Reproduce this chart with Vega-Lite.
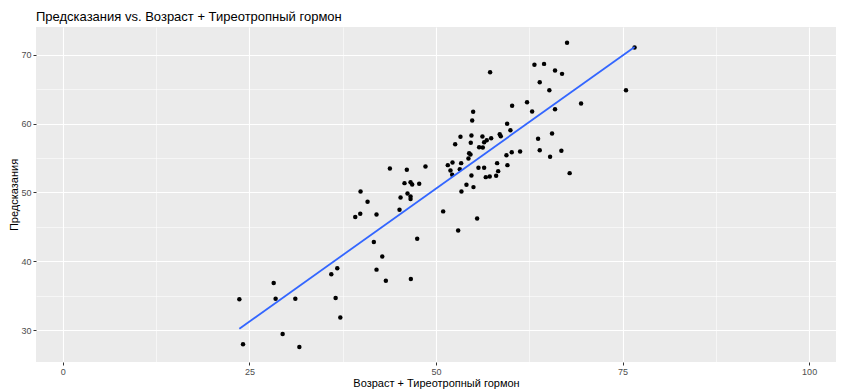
{
  "$schema": "https://vega.github.io/schema/vega-lite/v6.json",
  "width": 800,
  "height": 335,
  "autosize": {"type": "none"},
  "padding": {"left": 36, "top": 27, "right": 7, "bottom": 27},
  "background": "white",
  "config": {
    "font": "Liberation Sans",
    "view": {"fill": "#EBEBEB", "stroke": null}
  },
  "title": {
    "text": "Предсказания vs. Возраст + Тиреотропный гормон",
    "anchor": "start",
    "frame": "group",
    "fontSize": 13,
    "fontWeight": "normal",
    "font": "Liberation Sans",
    "color": "#000000",
    "offset": 3
  },
  "data": {
    "values": [
      {"age_tsh": 23.65, "pred": 34.49}, {"age_tsh": 24.14, "pred": 27.97}, {"age_tsh": 28.25, "pred": 36.86},
      {"age_tsh": 28.51, "pred": 34.59}, {"age_tsh": 31.15, "pred": 34.59}, {"age_tsh": 29.45, "pred": 29.46},
      {"age_tsh": 31.69, "pred": 27.58}, {"age_tsh": 35.97, "pred": 38.12}, {"age_tsh": 36.77, "pred": 38.99},
      {"age_tsh": 36.55, "pred": 34.68}, {"age_tsh": 37.18, "pred": 31.84},
      {"age_tsh": 43.82, "pred": 53.48}, {"age_tsh": 46.09, "pred": 53.29}, {"age_tsh": 48.59, "pred": 53.77},
      {"age_tsh": 45.78, "pred": 51.35}, {"age_tsh": 46.59, "pred": 51.49}, {"age_tsh": 46.81, "pred": 51.16},
      {"age_tsh": 47.75, "pred": 51.26}, {"age_tsh": 39.89, "pred": 50.14}, {"age_tsh": 46.18, "pred": 49.86},
      {"age_tsh": 45.25, "pred": 49.28}, {"age_tsh": 46.59, "pred": 49.42}, {"age_tsh": 46.59, "pred": 49.03},
      {"age_tsh": 40.83, "pred": 48.65}, {"age_tsh": 45.11, "pred": 47.49}, {"age_tsh": 39.85, "pred": 46.91},
      {"age_tsh": 39.18, "pred": 46.42}, {"age_tsh": 42.03, "pred": 46.81}, {"age_tsh": 50.96, "pred": 47.25},
      {"age_tsh": 47.48, "pred": 43.29}, {"age_tsh": 41.67, "pred": 42.8}, {"age_tsh": 42.8, "pred": 40.72},
      {"age_tsh": 42.03, "pred": 38.8}, {"age_tsh": 43.28, "pred": 37.2}, {"age_tsh": 46.63, "pred": 37.44},
      {"age_tsh": 57.25, "pred": 67.44}, {"age_tsh": 60.2, "pred": 62.56}, {"age_tsh": 54.98, "pred": 61.69},
      {"age_tsh": 54.85, "pred": 60.43}, {"age_tsh": 59.53, "pred": 59.96}, {"age_tsh": 59.97, "pred": 59.03},
      {"age_tsh": 53.28, "pred": 58.07}, {"age_tsh": 54.75, "pred": 58.26}, {"age_tsh": 58.54, "pred": 58.45},
      {"age_tsh": 58.68, "pred": 58.16}, {"age_tsh": 56.22, "pred": 58.12}, {"age_tsh": 57.39, "pred": 57.87},
      {"age_tsh": 56.8, "pred": 57.58}, {"age_tsh": 56.45, "pred": 57.29}, {"age_tsh": 54.66, "pred": 57.2},
      {"age_tsh": 52.57, "pred": 57.0}, {"age_tsh": 55.78, "pred": 56.57}, {"age_tsh": 56.27, "pred": 56.52},
      {"age_tsh": 54.44, "pred": 55.7}, {"age_tsh": 54.62, "pred": 55.51}, {"age_tsh": 60.15, "pred": 55.84},
      {"age_tsh": 59.44, "pred": 55.41}, {"age_tsh": 54.35, "pred": 54.93}, {"age_tsh": 52.21, "pred": 54.35},
      {"age_tsh": 51.58, "pred": 53.96}, {"age_tsh": 53.37, "pred": 54.25}, {"age_tsh": 58.19, "pred": 54.25},
      {"age_tsh": 59.57, "pred": 53.96}, {"age_tsh": 51.94, "pred": 53.19}, {"age_tsh": 53.19, "pred": 53.38},
      {"age_tsh": 55.69, "pred": 53.58}, {"age_tsh": 56.45, "pred": 53.58}, {"age_tsh": 58.33, "pred": 53.09},
      {"age_tsh": 52.17, "pred": 52.57}, {"age_tsh": 54.75, "pred": 52.46}, {"age_tsh": 56.67, "pred": 52.22},
      {"age_tsh": 57.2, "pred": 52.32}, {"age_tsh": 58.06, "pred": 52.42}, {"age_tsh": 54.08, "pred": 51.12},
      {"age_tsh": 55.02, "pred": 50.77}, {"age_tsh": 53.41, "pred": 50.14}, {"age_tsh": 55.51, "pred": 46.23},
      {"age_tsh": 52.97, "pred": 44.49},
      {"age_tsh": 67.56, "pred": 71.7}, {"age_tsh": 63.19, "pred": 68.51}, {"age_tsh": 64.48, "pred": 68.65},
      {"age_tsh": 65.95, "pred": 67.68}, {"age_tsh": 66.89, "pred": 67.2}, {"age_tsh": 63.9, "pred": 66.0},
      {"age_tsh": 65.19, "pred": 64.83}, {"age_tsh": 62.2, "pred": 63.09}, {"age_tsh": 62.88, "pred": 61.74},
      {"age_tsh": 65.95, "pred": 62.07}, {"age_tsh": 69.44, "pred": 62.9}, {"age_tsh": 65.55, "pred": 58.55},
      {"age_tsh": 63.68, "pred": 57.78}, {"age_tsh": 61.27, "pred": 55.94}, {"age_tsh": 63.9, "pred": 56.13},
      {"age_tsh": 66.8, "pred": 56.04}, {"age_tsh": 65.29, "pred": 55.17}, {"age_tsh": 67.91, "pred": 52.8},
      {"age_tsh": 76.61, "pred": 71.01}, {"age_tsh": 75.46, "pred": 64.83}
    ]
  },
  "encoding": {
    "x": {
      "field": "age_tsh",
      "type": "quantitative",
      "title": "Возраст + Тиреотропный гормон",
      "scale": {"domain": [-3.6, 103.6], "nice": false, "zero": false},
      "axis": {
        "values": [0, 12.5, 25, 37.5, 50, 62.5, 75, 87.5, 100],
        "labelExpr": "datum.value % 25 === 0 ? datum.label : ''",
        "domain": false,
        "grid": true,
        "gridColor": "#FFFFFF",
        "gridWidth": {"condition": {"test": "datum.value % 25 === 0", "value": 1.1}, "value": 0.55},
        "tickOpacity": {"condition": {"test": "datum.value % 25 === 0", "value": 1}, "value": 0},
        "tickColor": "#333333",
        "tickSize": 3,
        "labelColor": "#4D4D4D",
        "labelFontSize": 9,
        "labelPadding": 2,
        "labelFont": "Liberation Sans",
        "titleFont": "Liberation Sans",
        "titleFontSize": 11,
        "titleFontWeight": "normal",
        "titleColor": "#000000",
        "titlePadding": 1
      }
    },
    "y": {
      "field": "pred",
      "type": "quantitative",
      "title": "Предсказания",
      "scale": {"domain": [25.4, 74.0], "nice": false, "zero": false},
      "axis": {
        "values": [30, 35, 40, 45, 50, 55, 60, 65, 70],
        "labelExpr": "datum.value % 10 === 0 ? datum.label : ''",
        "domain": false,
        "grid": true,
        "gridColor": "#FFFFFF",
        "gridWidth": {"condition": {"test": "datum.value % 10 === 0", "value": 1.1}, "value": 0.55},
        "tickOpacity": {"condition": {"test": "datum.value % 10 === 0", "value": 1}, "value": 0},
        "tickColor": "#333333",
        "tickSize": 3,
        "labelColor": "#4D4D4D",
        "labelFontSize": 9,
        "labelPadding": 2,
        "labelFont": "Liberation Sans",
        "titleFont": "Liberation Sans",
        "titleFontSize": 11,
        "titleFontWeight": "normal",
        "titleColor": "#000000",
        "titlePadding": 1
      }
    }
  },
  "layer": [
    {
      "mark": {"type": "circle", "color": "#000000", "opacity": 1, "size": 20}
    },
    {
      "transform": [{"regression": "pred", "on": "age_tsh"}],
      "mark": {"type": "line", "color": "#3366FF", "strokeWidth": 1.8}
    }
  ]
}
